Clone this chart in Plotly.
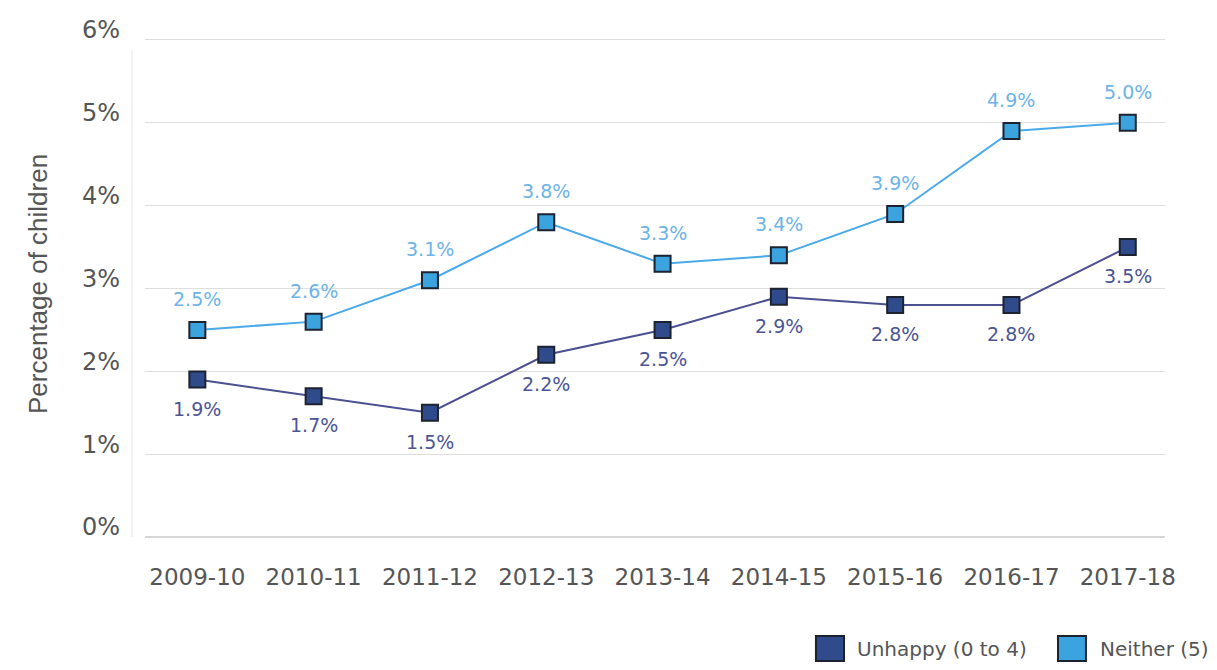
import plotly.graph_objects as go

years = ["2009-10", "2010-11", "2011-12", "2012-13", "2013-14", "2014-15", "2015-16", "2016-17", "2017-18"]
unhappy = [1.9, 1.7, 1.5, 2.2, 2.5, 2.9, 2.8, 2.8, 3.5]
neither = [2.5, 2.6, 3.1, 3.8, 3.3, 3.4, 3.9, 4.9, 5.0]
ytick_vals = [0, 1, 2, 3, 4, 5, 6]
ytick_text = ["0%", "1%", "2%", "3%", "4%", "5%", "6%"]
series_names = ["Unhappy (0 to 4)", "Neither (5)"]

FONT = "DejaVu Sans"
c_un_marker = "#2f4b8c"
c_un_line = "#4a5090"
c_un_text = "#4b5596"
c_ne_marker = "#3ba3de"
c_ne_line = "#4aa9e8"
c_ne_text = "#6db3e8"
border = "#1c2230"
grey = "#555555"

fig = go.Figure()
fig.add_trace(go.Scatter(
    x=years, y=unhappy, mode="lines+markers", name=series_names[0],
    line=dict(color=c_un_line, width=2),
    marker=dict(symbol="square", size=16, color=c_un_marker, line=dict(color=border, width=2)),
    showlegend=False,
))
fig.add_trace(go.Scatter(
    x=years, y=neither, mode="lines+markers", name=series_names[1],
    line=dict(color=c_ne_line, width=2),
    marker=dict(symbol="square", size=16, color=c_ne_marker, line=dict(color=border, width=2)),
    showlegend=False,
))

for x, y in zip(years, unhappy):
    fig.add_annotation(x=x, y=y, text=f"{y:.1f}%", showarrow=False, yshift=-29,
                       font=dict(family=FONT, size=19, color=c_un_text))
for x, y in zip(years, neither):
    fig.add_annotation(x=x, y=y, text=f"{y:.1f}%", showarrow=False, yshift=31,
                       font=dict(family=FONT, size=19, color=c_ne_text))

# paper mapping: plot area spans page y 38..537 (499 px)
PH = 499.0
def py(page_y):
    return (537 - page_y) / PH

# faint left axis line
fig.add_shape(type="line", xref="paper", yref="paper", x0=-0.0127, x1=-0.0127, y0=0, y1=py(50),
              line=dict(color="#e6e6e6", width=1))

# custom legend (square swatches + labels)
legend_items = [
    (series_names[0], c_un_marker, 0.6578, 0.6853, 0.6961),
    (series_names[1], c_ne_marker, 0.8951, 0.9225, 0.9343),
]
for name, col, sx0, sx1, tx in legend_items:
    fig.add_shape(type="rect", xref="paper", yref="paper", x0=sx0, x1=sx1, y0=py(661), y1=py(636),
                  fillcolor=col, line=dict(color=border, width=2))
    fig.add_annotation(xref="paper", yref="paper", x=tx, y=py(649), text=name, showarrow=False,
                       xanchor="left", yanchor="middle", font=dict(family=FONT, size=20, color=grey))

# y-axis title
fig.add_annotation(xref="paper", yref="paper", x=-0.1049, y=py(284), text="Percentage of children",
                   textangle=-90, showarrow=False, xanchor="center", yanchor="middle",
                   font=dict(family="Liberation Sans", size=26, color=grey))

fig.update_layout(
    width=1201, height=654,
    margin=dict(l=137, r=44, t=30, b=125, autoexpand=False),
    paper_bgcolor="white", plot_bgcolor="white",
    font=dict(family=FONT, color=grey),
    showlegend=False,
    xaxis=dict(
        type="category", range=[-0.45, 8.32], showgrid=False, zeroline=False, showline=False,
        ticks="", ticklabelstandoff=24, tickfont=dict(family=FONT, size=23, color=grey),
    ),
    yaxis=dict(
        range=[0, 6.024], tickvals=ytick_vals, ticktext=ytick_text,
        showgrid=True, gridcolor="#dedede", gridwidth=1, zeroline=True, zerolinecolor="#d6d6d6",
        showline=False, ticks="", ticklabelstandoff=24, ticklabelshift=-10,
        tickfont=dict(family=FONT, size=24, color=grey),
    ),
)

fig.write_html("out.html")
